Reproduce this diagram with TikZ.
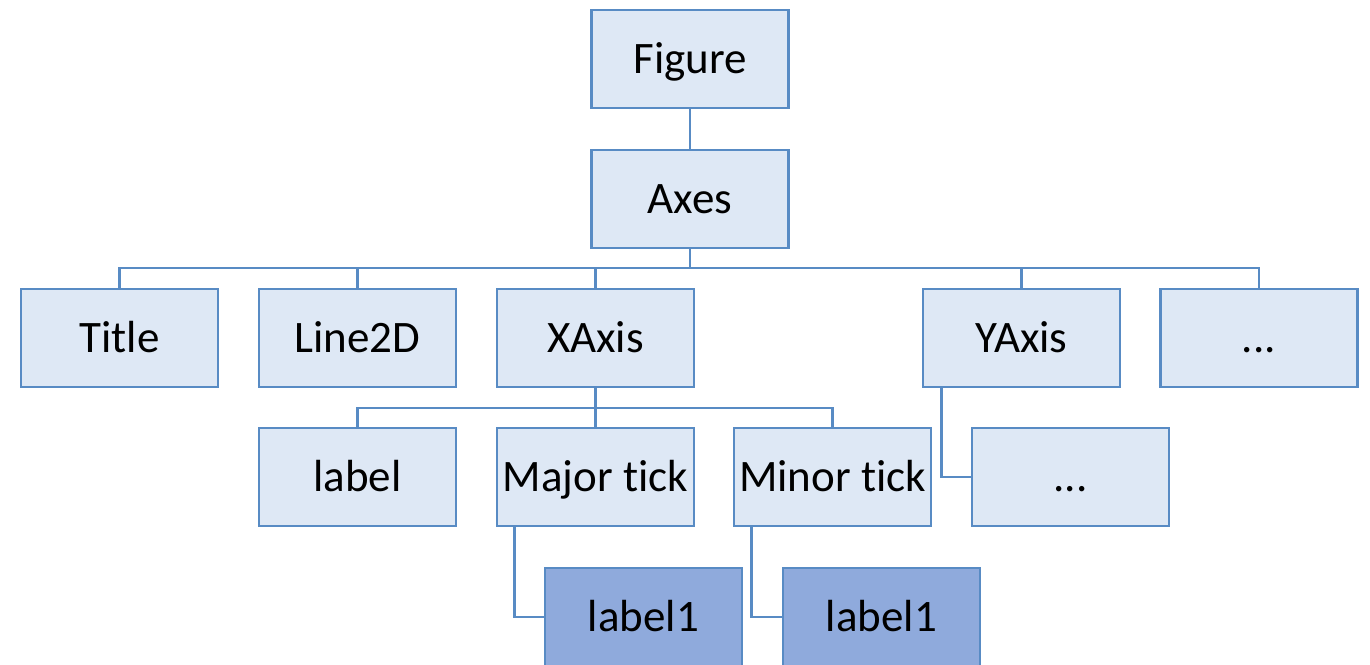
\documentclass[tikz,border=0pt]{standalone}
\usepackage{fontspec}
\setmainfont[Ligatures=NoCommon]{Carlito}
\definecolor{edge}{RGB}{88,139,196}
\definecolor{lightfill}{RGB}{222,232,245}
\definecolor{darkfill}{RGB}{143,170,220}
\begin{document}
\begin{tikzpicture}[x=1pt,y=-1pt,
  box/.style={draw=edge, line width=2.6pt, fill=lightfill, minimum width=197pt, minimum height=98pt, inner sep=0pt, font=\fontsize{45}{50}\selectfont, text height=29pt, text depth=0pt, text=black},
  dbox/.style={box, fill=darkfill},
  conn/.style={draw=edge, line width=2.6pt}]
\useasboundingbox (0,0) rectangle (1370,664);
\node[box] (figure) at (690,59) {Figure};
\node[box] (axes) at (690,199) {Axes};
\node[box] (title) at (119.5,338) {Title};
\node[box] (line2d) at (357.5,338) {Line2D};
\node[box] (xaxis) at (595.5,338) {XAxis};
\node[box] (yaxis) at (1021.5,338) {YAxis};
\node[box] (adots) at (1259,338) {...};
\node[box] (xlabel) at (357.5,477) {label};
\node[box] (major) at (595.5,477) {Major tick};
\node[box] (minor) at (832.5,477) {Minor tick};
\node[box] (ydots) at (1070.5,477) {...};
\node[dbox] (lbA) at (643.5,617) {label1};
\node[dbox] (lbB) at (881.5,617) {label1};
\coordinate (busA) at (690,268);
\coordinate (busX) at (595.5,408);
\draw[conn] (figure.south) -- (axes.north);
\draw[conn] (axes.south) -- (busA);
\draw[conn] (busA) -| (title.north);
\draw[conn] (busA) -| (line2d.north);
\draw[conn] (busA) -| (xaxis.north);
\draw[conn] (busA) -| (yaxis.north);
\draw[conn] (busA) -| (adots.north);
\draw[conn] (xaxis.south) -- (busX);
\draw[conn] (busX) -| (xlabel.north);
\draw[conn] (busX) -| (major.north);
\draw[conn] (busX) -| (minor.north);
\draw[conn] ([xshift=20pt]yaxis.south west) |- (ydots.west);
\draw[conn] ([xshift=19pt]major.south west) |- (lbA.west);
\draw[conn] ([xshift=19pt]minor.south west) |- (lbB.west);
\end{tikzpicture}
\end{document}
